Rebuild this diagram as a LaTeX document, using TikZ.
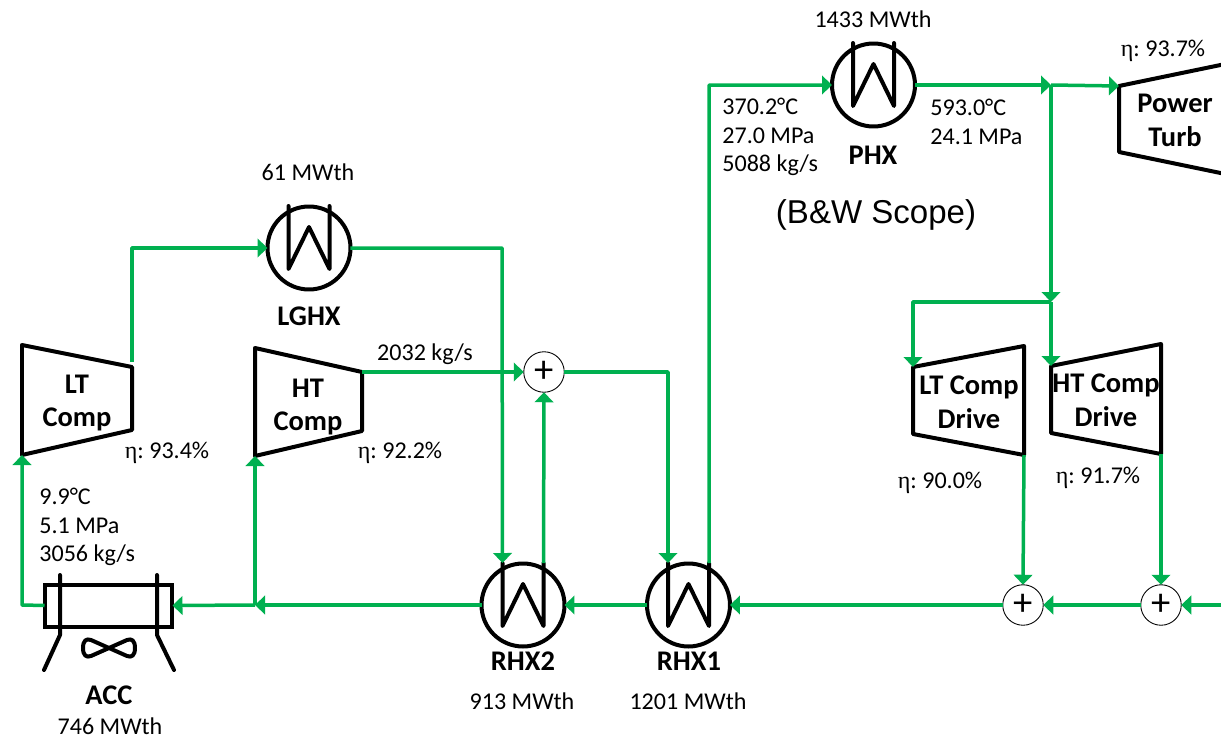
\documentclass[tikz,border=0pt]{standalone}
\usepackage{fontspec}
\setmainfont{Carlito}
\newfontfamily\arialfont{Liberation Sans}
\newfontfamily\etafont{Liberation Serif}
\usepackage{xcolor}
\usepackage{tikz}
\usetikzlibrary{
  arrows.meta,
  calc
}
\definecolor{flowgreen}{HTML}{00B050}
\newcommand{\etalabel}{{\etafont η}:~}
\tikzset{
  flow/.style={draw=flowgreen, line width=0.07cm, line join=round, -{Triangle[length=0.2cm, width=0.37cm]}},
  blk/.style={draw=black, line width=0.08cm, line join=round, line cap=round},
  hx/.style={circle, draw=black, line width=0.08cm, minimum size=1.66cm, inner sep=0pt, outer sep=0pt},
  sumnode/.style={circle, draw=black, line width=0.5pt, minimum size=0.81cm, inner sep=0pt, outer sep=0pt, font=\fontsize{22}{22}\selectfont},
  lbl/.style={inner sep=0pt, font=\fontsize{13.7}{16.2}\selectfont},
  lblleft/.style={inner sep=0pt, align=left, anchor=west, font=\fontsize{13.7}{16.2}\selectfont},
  eqname/.style={inner sep=0pt, align=center, font=\fontsize{16.2}{19.3}\selectfont\bfseries}
}
\begin{document}
\begin{tikzpicture}[x=0.02cm, y=-0.02cm]
    \clip (0,0) rectangle (1221,737);
    % heat exchangers
    \node[hx] (lghx) at (309,248) {};
    \node[hx] (phx) at (873.5,85) {};
    \node[hx] (rhxtwo) at (523,605) {};
    \node[hx] (rhxone) at (688.5,605) {};
    \foreach \n in {lghx,phx,rhxtwo,rhxone} {
        \coordinate (\n L) at ($(\n)+(-20.5,-42)$);
        \coordinate (\n R) at ($(\n)+(20.5,-42)$);
        \draw[blk] (\n L) -- ($(\n)+(-20.5,21)$) -- ($(\n)+(0,-21)$) -- ($(\n)+(20.5,21)$) -- (\n R);
    }

    % summing junctions
    \node[sumnode] (sumhi) at (544,372) {+};
    \node[sumnode] (sumlt) at (1023,605) {+};
    \node[sumnode] (sumht) at (1161,605) {+};

    % turbomachinery
    \coordinate (ltcompA) at (22,345);
    \coordinate (ltcompB) at (132,367);
    \coordinate (ltcompC) at (132,430);
    \coordinate (ltcompD) at (22,455);
    \draw[blk] (ltcompA) -- (ltcompB) -- (ltcompC) -- (ltcompD) -- cycle;
    \coordinate (htcompA) at (255,348);
    \coordinate (htcompB) at (362,372);
    \coordinate (htcompC) at (362,431);
    \coordinate (htcompD) at (255,456);
    \draw[blk] (htcompA) -- (htcompB) -- (htcompC) -- (htcompD) -- cycle;
    \coordinate (turbA) at (1119,86);
    \coordinate (turbB) at (1119,152);
    \draw[blk] (1235,62) -- (turbA) -- (turbB) -- (1235,176);
    \coordinate (ltdrvA) at (913,367);
    \coordinate (ltdrvB) at (1024,346);
    \coordinate (ltdrvC) at (1024,455);
    \coordinate (ltdrvD) at (913,434);
    \draw[blk] (ltdrvA) -- (ltdrvB) -- (ltdrvC) -- (ltdrvD) -- cycle;
    \coordinate (htdrvA) at (1051,366);
    \coordinate (htdrvB) at (1161,344);
    \coordinate (htdrvC) at (1161,454);
    \coordinate (htdrvD) at (1051,433);
    \draw[blk] (htdrvA) -- (htdrvB) -- (htdrvC) -- (htdrvD) -- cycle;

    % air cooler
    \node[rectangle, draw=black, line width=0.08cm, minimum width=2.56cm, minimum height=0.84cm, inner sep=0pt, outer sep=0pt] (acc) at (108.5,605.5) {};
    \draw[blk] (60,575) -- (60,635) -- (44,670);
    \draw[blk] (157,575) -- (157,635) -- (174,670);
    \draw[blk] (109,648) -- (91,640) .. controls (86,638) and (83,641) .. (83,648)
        .. controls (83,655) and (86,658) .. (91,656)
        -- (109,648) -- (127,640) .. controls (132,638) and (135,641) .. (135,648)
        .. controls (135,655) and (132,658) .. (127,656) -- cycle;

    % flow lines
    \coordinate (ltjoin) at (22,605);
    \coordinate (ltup) at (132,248);
    \coordinate (hijoin) at (255,605);
    \coordinate (lgcorner) at (502,248);
    \coordinate (sumcorner) at (668,372);
    \coordinate (rhxcorner) at (709,85);
    \coordinate (phxjoin) at (1051,85);
    \coordinate (drvjoin) at (1051,302);
    \coordinate (drvcorner) at (913,302);
    \coordinate (inlet) at (1221,605);

    \draw[flow] (acc.west) -- (ltjoin) -- (ltcompD);
    \draw[flow] (132,362) -- (ltup) -- (lghx.west);
    \draw[flow] (lghx.east) -- (lgcorner) -- (rhxtwoL);
    \draw[flow] (htcompB) -- (sumhi.west);
    \draw[flow] (rhxtwoR) -- (sumhi.south);
    \draw[flow] (sumhi.east) -- (sumcorner) -- (rhxoneL);
    \draw[flow] (rhxoneR) -- (rhxcorner) -- (phx.west);
    \draw[flow] (phx.east) -- (phxjoin);
    \draw[flow] (phxjoin) -- (turbA);
    \draw[flow] (phxjoin) -- (drvjoin);
    \draw[flow] (drvjoin) -- (htdrvA);
    \draw[flow] (drvjoin) -- (drvcorner) -- (ltdrvA);
    \draw[flow] (ltdrvC) -- (sumlt.north);
    \draw[flow] (htdrvC) -- (sumht.north);
    \draw[flow] (inlet) -- (sumht.east);
    \draw[flow] (sumht.west) -- (sumlt.east);
    \draw[flow] (sumlt.west) -- (rhxone.east);
    \draw[flow] (rhxone.west) -- (rhxtwo.east);
    \draw[flow] (rhxtwo.west) -- (hijoin);
    \draw[flow] (hijoin) -- (acc.east);
    \draw[flow] (hijoin) -- (htcompD);

    % names
    \node[eqname] (lghxname) at (309,316) {LGHX};
    \node[eqname] (phxname) at (873,155) {PHX};
    \node[eqname] (rhxtwoname) at (523,661) {RHX2};
    \node[eqname] (rhxonename) at (689,661) {RHX1};
    \node[eqname] (accname) at (109,695) {ACC};
    \node[eqname] (ltcompname) at (77,403) {LT\\Comp};
    \node[eqname] (htcompname) at (308,407) {HT\\Comp};
    \node[eqname] (turbname) at (1175,120.5) {Power\\Turb};
    \node[eqname] (ltdrvname) at (969,402.5) {LT Comp\\Drive};
    \node[eqname] (htdrvname) at (1106,400.5) {HT Comp\\Drive};

    % duties and efficiencies
    \node[lbl] (lgduty) at (308,172) {61 MWth};
    \node[lbl] (phxduty) at (873,19) {1433 MWth};
    \node[lbl] (rhxtwoduty) at (522,701) {913 MWth};
    \node[lbl] (rhxoneduty) at (688,701) {1201 MWth};
    \node[lbl] (accduty) at (110,726) {746 MWth};
    \node[lbl] (etalt) at (167,452.5) {\etalabel 93.4\%};
    \node[lbl] (etaht) at (400,452.5) {\etalabel 92.2\%};
    \node[lbl] (etaturb) at (1163,50.5) {\etalabel 93.7\%};
    \node[lbl] (etaltdrv) at (940,482.5) {\etalabel 90.0\%};
    \node[lbl] (etahtdrv) at (1098,477.5) {\etalabel 91.7\%};

    % state points
    \node[lbl] (hiflow) at (425,354) {2032 kg/s};
    \node[lblleft] (accstate) at (39,527) {9.9°C\\5.1 MPa\\3056 kg/s};
    \node[lblleft] (phxin) at (722,137) {370.2°C\\27.0 MPa\\5088 kg/s};
    \node[lblleft] (phxout) at (930,122) {593.0°C\\24.1 MPa};
    \node[inner sep=0pt, font=\fontsize{18.8}{22}\selectfont\arialfont] (scope) at (876,215) {(B\&W Scope)};
\end{tikzpicture}
\end{document}
